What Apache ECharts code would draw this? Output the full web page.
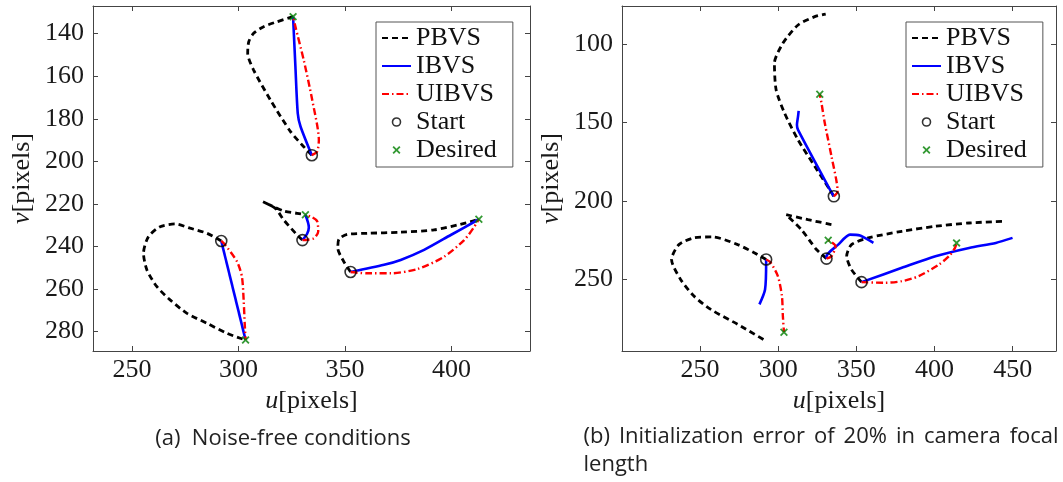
<!DOCTYPE html>
<html><head><meta charset="utf-8">
<script src="https://cdn.jsdelivr.net/npm/echarts@6/dist/echarts.min.js"></script>
<style>html,body{margin:0;padding:0;background:#fff}#c{width:1063px;height:482px}</style>
</head><body><div id="c"></div><script>
// ---------- (a) Noise-free conditions ----------
const pbvsA = [
  [[334.4,197.1],[330.6,193.1],[324.4,186.0],[315.0,171.2],[307.1,157.1],[304.3,149.2],[304.8,143.8],[307.1,139.8],[311.8,136.7],[318.1,134.4],[325.6,132.0]],
  [[291.9,237.4],[285.2,233.8],[277.3,231.4],[270.3,229.4],[263.2,230.7],[257.7,235.4],[255.4,243.2],[257.0,251.0],[261.7,258.9],[267.9,265.1],[275.8,271.4],[285.2,276.1],[294.6,280.8],[300.8,283.1],[303.3,283.9]],
  [[330.0,237.0],[326.8,233.8],[321.2,227.5],[317.3,222.1],[311.5,219.0],[321.2,223.3],[327.5,224.4],[331.4,225.1]],
  [[352.6,252.0],[349.4,247.1],[346.6,240.8],[347.1,236.6],[351.0,234.3],[360.4,233.8],[376.1,233.3],[391.8,232.2],[402.8,229.9],[409.0,228.3],[412.8,227.2]]
];
const ibvsA = [
  [[334.4,197.1],[329.1,183.6],[327.8,177.4],[326.7,155.5],[325.6,132.0]],
  [[291.9,237.4],[303.3,283.9]],
  [[330.0,237.0],[332.2,234.0],[333.0,230.9],[331.4,225.1]],
  [[352.6,252.0],[368.3,248.6],[376.1,246.3],[387.1,241.6],[399.6,234.6],[412.8,227.2]]
];
const uibvsA = [
  [[334.4,197.1],[336.9,195.4],[337.7,190.0],[334.6,171.2],[330.6,152.4],[326.7,136.7],[325.6,132.0]],
  [[291.9,237.4],[293.8,239.3],[299.3,247.1],[301.6,254.2],[302.4,265.1],[302.9,276.1],[303.3,283.9]],
  [[330.0,237.0],[335.3,236.2],[337.4,233.0],[336.9,228.1],[334.6,226.3],[331.4,225.1]],
  [[352.6,252.0],[360.4,252.6],[371.4,252.6],[384.0,250.6],[396.5,244.8],[405.9,237.0],[410.6,230.8],[412.8,227.2]]
];
const startA = [[334.4,197.1],[291.9,237.4],[330.0,237.0],[352.6,252.0]];
const desiredA = [[325.6,132.0],[303.3,283.9],[331.4,225.1],[412.8,227.2]];

// ---------- (b) 20% focal-length error ----------
const pbvsB = [
  [[335.6,197.1],[333.0,192.9],[323.4,178.0],[312.7,161.1],[304.1,144.1],[298.7,129.3],[297.6,112.3],[303.0,99.6],[312.7,87.9],[323.4,82.6],[330.4,80.9]],
  [[292.3,237.4],[284.7,233.1],[274.1,227.9],[258.0,223.0],[246.1,223.6],[236.5,227.9],[231.8,237.4],[237.6,250.1],[246.1,260.7],[256.9,269.2],[274.1,278.7],[292.3,289.4]],
  [[330.9,236.8],[324.5,231.0],[314.8,218.3],[305.1,208.8],[319.1,212.0],[334.1,215.1]],
  [[353.3,251.8],[346.9,243.8],[343.8,235.3],[346.9,227.9],[357.7,223.6],[379.1,219.4],[400.6,216.2],[422.1,214.1],[444.6,213.0]]
];
const ibvsB = [
  [[335.6,197.1],[334.1,194.6],[312.7,154.7],[312.0,151.5],[312.7,146.2],[313.1,142.6]],
  [[292.3,237.4],[292.3,238.5],[291.6,256.5],[288.0,266.0]],
  [[330.9,236.8],[330.9,235.4],[338.4,227.9],[345.9,221.5],[352.3,222.1],[360.9,226.8]],
  [[353.3,251.8],[379.1,242.7],[400.6,235.3],[422.1,230.0],[439.2,226.8],[449.9,223.6]]
];
const uibvsB = [
  [[335.6,197.1],[338.0,194.0],[334.1,171.7],[329.8,150.4],[327.7,137.7],[326.6,132.0]],
  [[292.3,237.4],[295.0,239.1],[299.8,248.0],[302.4,260.7],[303.0,273.5],[303.7,283.7]],
  [[330.9,236.8],[334.1,235.3],[336.7,228.9],[334.0,226.3],[332.0,225.1]],
  [[353.3,251.8],[368.4,252.2],[379.1,251.2],[389.9,248.0],[402.8,240.6],[409.2,235.3],[413.1,230.0],[414.1,226.8]]
];
const startB = [[335.6,197.1],[292.3,237.4],[330.9,236.8],[353.3,251.8]];
const desiredB = [[326.6,132.0],[303.7,283.7],[332.0,225.1],[414.1,226.8]];

// axis ranges and tick steps
const rangeA = {x:[231.7,436.8], xStep:50, y:[127.0,289.1], yStep:20};
const rangeB = {x:[200.1,477.7], xStep:50, y:[75.8,295.7], yStep:50};
const legendNames = ['PBVS','IBVS','UIBVS','Start','Desired'];
const xName = '{i|u}[pixels]';
const yName = '{i|ν}[pixels]';
const captionA = '(a)  Noise-free conditions';
const captionBWords = ['(b)','Initialization','error','of','20%','in','camera','focal'];
const captionBLine2 = 'length';

// ---------- styling / building ----------
const SERIF = 'Liberation Serif';
const AX = '#444';
const TXT = '#1a1a1a';
const xMark = 'path://M0,1.6L1.6,0L5,3.4L8.4,0L10,1.6L6.6,5L10,8.4L8.4,10L5,6.6L1.6,10L0,8.4L3.4,5Z';
const styles = {
  PBVS: {color:'#000', width:2.8, type:[6,4]},
  IBVS: {color:'#0000ff', width:2.6, type:'solid'},
  UIBVS: {color:'#ff0000', width:2.4, type:[7,3,1.5,3]}
};

function tickFmt(step){ return v => (Math.abs(v/step - Math.round(v/step)) < 1e-6 ? String(Math.round(v)) : ''); }
function nameStyle(){ return {fontFamily:SERIF, fontSize:26, color:TXT, rich:{i:{fontFamily:SERIF, fontSize:26, fontStyle:'italic', color:TXT}}}; }
function labelStyle(step, margin, main){
  return {show:main, showMinLabel:false, showMaxLabel:false, margin, fontFamily:SERIF, fontSize:26, color:TXT, formatter:tickFmt(step)};
}
function mkX(gi, r, pos, main){
  return {type:'value', gridIndex:gi, position:pos, min:r.x[0], max:r.x[1], minInterval:r.xStep, maxInterval:r.xStep,
    axisLine:{show:true, onZero:false, lineStyle:{color:AX, width:1}},
    axisTick:{show:true, inside:true, length:5, lineStyle:{color:AX}},
    splitLine:{show:false},
    axisLabel:labelStyle(r.xStep, 6, main),
    name: main ? xName : '', nameLocation:'middle', nameGap:31, nameTextStyle:nameStyle()
  };
}
function mkY(gi, r, pos, main){
  return {type:'value', gridIndex:gi, position:pos, inverse:true, min:r.y[0], max:r.y[1], minInterval:r.yStep, maxInterval:r.yStep,
    axisLine:{show:true, onZero:false, lineStyle:{color:AX, width:1}},
    axisTick:{show:true, inside:true, length:5, lineStyle:{color:AX}},
    splitLine:{show:false},
    axisLabel:labelStyle(r.yStep, 9, main),
    name: main ? yName : '', nameLocation:'middle', nameGap:58, nameRotate:90, nameTextStyle:nameStyle()
  };
}
function lineSeries(paths, name, gi, z){
  return paths.map(d => ({type:'line', name, xAxisIndex:gi*2, yAxisIndex:gi*2, data:d, symbol:'none', showSymbol:false,
    smooth:0.25, lineStyle:styles[name], itemStyle:{color:styles[name].color}, z, animation:false, emphasis:{disabled:true}}));
}
function markSeries(gi, starts, desired){
  return [
    {type:'scatter', name:'Start', xAxisIndex:gi*2, yAxisIndex:gi*2, data:starts, symbol:'circle', symbolSize:11,
      itemStyle:{color:'rgba(0,0,0,0)', borderColor:'#000', borderWidth:1.6}, z:6, animation:false},
    {type:'scatter', name:'Desired', xAxisIndex:gi*2, yAxisIndex:gi*2, data:desired, symbol:xMark, symbolSize:8,
      itemStyle:{color:'#008000'}, z:7, animation:false}
  ];
}
function mkLegend(left){
  return {left, top:22, orient:'vertical', selectedMode:false,
    data:legendNames.map(n => (n in styles) ? {name:n, itemStyle:{opacity:0}} :
      (n === 'Start' ? {name:n, itemStyle:{color:'rgba(0,0,0,0)', borderColor:'#000', borderWidth:1.6}} : {name:n})),
    itemWidth:29, itemHeight:8, itemGap:2, padding:[3,16,4,5],
    borderColor:'#555', borderWidth:1, backgroundColor:'#fff',
    textStyle:{fontFamily:SERIF, fontSize:26, color:'#111', lineHeight:25.5}};
}

const series = [].concat(
  lineSeries(pbvsA,'PBVS',0,2), lineSeries(ibvsA,'IBVS',0,3), lineSeries(uibvsA,'UIBVS',0,4), markSeries(0,startA,desiredA),
  lineSeries(pbvsB,'PBVS',1,2), lineSeries(ibvsB,'IBVS',1,3), lineSeries(uibvsB,'UIBVS',1,4), markSeries(1,startB,desiredB)
);

// captions (caption b justified between its measured edges)
const capFont = '22px "Open Sans"';
const cv = document.createElement('canvas').getContext('2d');
cv.font = capFont;
const bLeft = 583.5, bRight = 1058.6;
const wW = captionBWords.map(w => cv.measureText(w).width);
const gap = (bRight - bLeft - wW.reduce((a,b)=>a+b,0)) / (captionBWords.length - 1);
let cx = bLeft;
const wordX = wW.map(w => { const x = cx; cx += w + gap; return x; });
const graphic = [
  {type:'text', x:283, y:439, style:{text:captionA, font:capFont, fill:'#222', align:'center', verticalAlign:'middle'}}
].concat(captionBWords.map((w,i)=>({type:'text', x:wordX[i], y:437, style:{text:w, font:capFont, fill:'#222', align:'left', verticalAlign:'middle'}})))
 .concat([{type:'text', x:bLeft, y:465, style:{text:captionBLine2, font:capFont, fill:'#222', align:'left', verticalAlign:'middle'}}]);

const chart = echarts.init(document.getElementById('c'), null, {renderer:'canvas'});
chart.setOption({
  animation:false,
  backgroundColor:'#fff',
  textStyle:{fontFamily:SERIF},
  grid:[{left:93, top:6, width:437, height:345}, {left:622, top:6, width:434, height:345}],
  xAxis:[mkX(0,rangeA,'bottom',true), mkX(0,rangeA,'top',false), mkX(1,rangeB,'bottom',true), mkX(1,rangeB,'top',false)],
  yAxis:[mkY(0,rangeA,'left',true), mkY(0,rangeA,'right',false), mkY(1,rangeB,'left',true), mkY(1,rangeB,'right',false)],
  legend:[mkLegend(376), mkLegend(906)],
  series,
  graphic
});
</script></body></html>
